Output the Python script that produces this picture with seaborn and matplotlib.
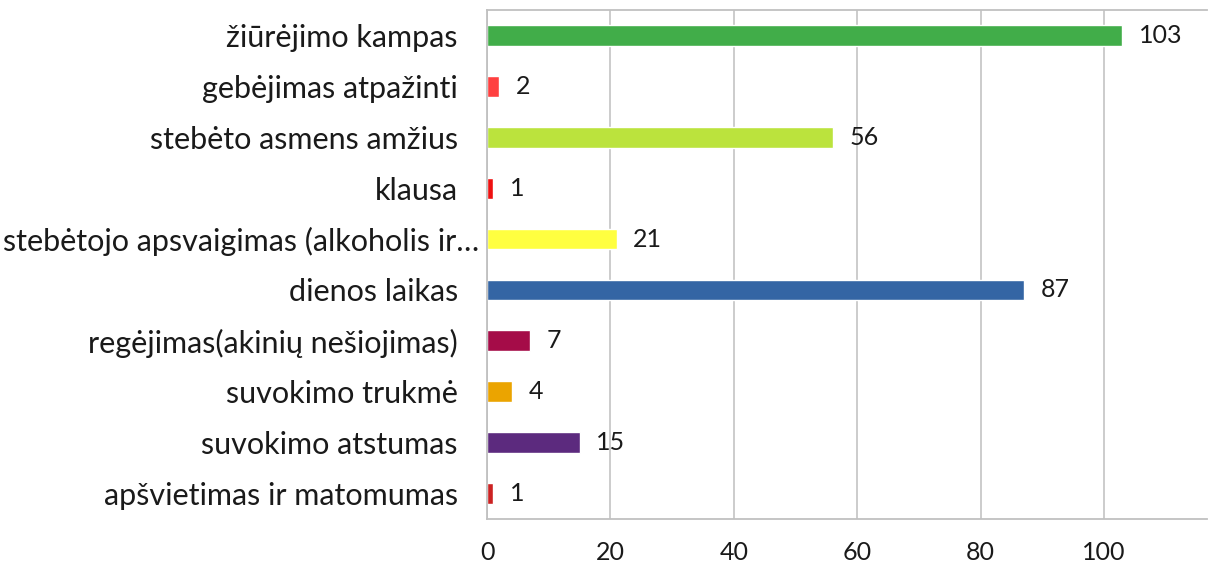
import matplotlib
matplotlib.use("Agg")
import matplotlib.pyplot as plt
import matplotlib.transforms as mtransforms
import seaborn as sns

categories = [
    "žiūrėjimo kampas",
    "gebėjimas atpažinti",
    "stebėto asmens amžius",
    "klausa",
    "stebėtojo apsvaigimas (alkoholis ir…",
    "dienos laikas",
    "regėjimas(akinių nešiojimas)",
    "suvokimo trukmė",
    "suvokimo atstumas",
    "apšvietimas ir matomumas",
]
counts = [103, 2, 56, 1, 21, 87, 7, 4, 15, 1]
x_ticks = [0, 20, 40, 60, 80, 100]

bar_colors = ["#41AD49", "#FF4040", "#BBE33D", "#EE1111", "#FFFF40",
              "#3465A4", "#A50C48", "#EBA400", "#5C2A7E", "#CC2222"]

sns.set_style("white")
plt.rcParams["font.family"] = ["Lato", "DejaVu Sans"]

fig = plt.figure(figsize=(12.14, 5.67), dpi=100)
ax = fig.add_axes([487 / 1214, 1 - 519 / 567, 720 / 1214, 509 / 567])

sns.barplot(x=counts, y=categories, hue=categories, palette=bar_colors,
            legend=False, orient="h", width=0.41, saturation=1, ax=ax)

for c in ax.containers:
    ax.bar_label(c, padding=12, fontsize=18, color="#1a1a1a")

ax.set_xlim(0, 116.7)
ax.set_xticks(x_ticks)
ax.grid(axis="x", color="#C8C8C8", linewidth=1.3)
ax.set_axisbelow(True)
ax.tick_params(axis="x", length=0, pad=16, labelsize=18, labelcolor="#1a1a1a")
ax.tick_params(axis="y", length=0, pad=21, labelsize=22, labelcolor="#1a1a1a")
ax.set_xlabel("")
ax.set_ylabel("")

# the truncated long label sits closer to the axis, like in the original
shift = mtransforms.ScaledTranslation(21 / 100, 0, fig.dpi_scale_trans)
for lbl in ax.get_yticklabels():
    if lbl.get_text().endswith("…"):
        lbl.set_transform(lbl.get_transform() + shift)

for side in ["left", "top", "bottom"]:
    ax.spines[side].set_color("#C0C0C0")
    ax.spines[side].set_linewidth(1.3)
ax.spines["right"].set_visible(False)

fig.savefig("out.png", dpi=100)
